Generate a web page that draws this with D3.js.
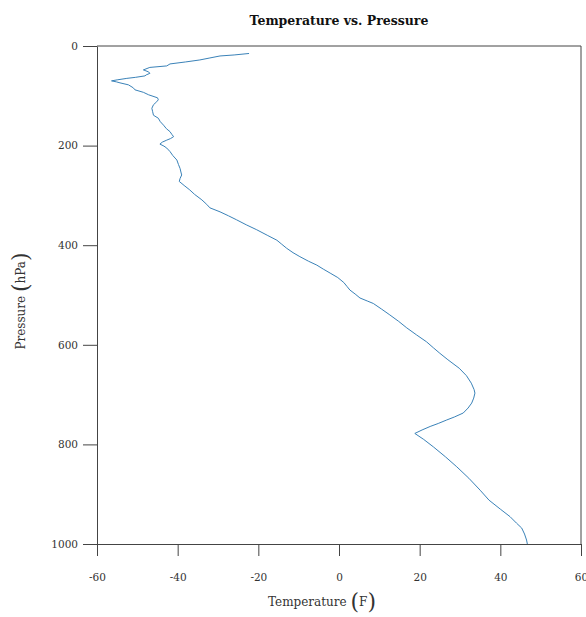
<!DOCTYPE html>
<html>
<head>
<meta charset="utf-8">
<script src="https://cdn.jsdelivr.net/npm/d3@7"></script>
<style>
  html, body { margin: 0; padding: 0; background: #fff; }
  svg { display: block; }
</style>
</head>
<body>
<svg id="chart" width="586" height="617"></svg>
<script>
// ---- data ----
const pressure = [15,18,20,24,28,32,36,40,43,48,52,55,58,60,63,65,68,70,72,74,78,84,88,93,98,104,108,112,118,125,132,139,145,152,159,166,172,178,182,186,189,193,197,201,205,212,220,229,238,246,253,259,266,272,280,289,298,309,318,325,333,341,349,359,369,380,390,398,406,415,423,432,440,448,456,465,475,483,490,498,506,512,517,528,540,553,566,580,594,606,617,630,647,662,677,690,697,707,717,727,737,745,751,758,764,771,778,790,805,825,845,868,892,912,930,945,958,968,980,992,1000];
const temperature = [-22.3,-26,-29.5,-32,-34.5,-38,-41.9,-42.7,-46.9,-48.5,-47.2,-46.9,-47.8,-48.1,-50.5,-52.6,-55,-56.4,-55.2,-54.3,-52.2,-51,-50.6,-48.5,-47.2,-45,-44.8,-45.2,-46,-46.4,-46.2,-46,-44.8,-44.3,-43.5,-42.8,-41.9,-41.4,-41,-41.8,-42.7,-43.8,-44.4,-43.4,-42.7,-41.9,-41.2,-40.2,-39.8,-39.4,-39.2,-39,-39.4,-39.6,-38.4,-37,-35.8,-34,-32.8,-32,-29.5,-27.4,-25.4,-23,-20.4,-17.8,-15.4,-14.2,-13,-11.4,-9.7,-7.6,-5.5,-3.9,-2.2,-0.3,1.2,2,2.7,4,5.2,7,8.5,10.5,12.6,14.8,16.8,19.2,21.7,23.4,25,27,29.8,31.6,32.8,33.5,33.7,33.4,32.9,32,30.8,28.6,26.7,24.6,22.6,20.6,18.8,21,23.4,26.4,29.2,32.2,35,37.2,40,42.4,44,45.3,46,46.5,46.7];
const xTicks = [-60,-40,-20,0,20,40,60];
const yTicks = [0,200,400,600,800,1000];
const titleText = "Temperature vs. Pressure";
const xLabel = "Temperature";
const xUnit = "F";
const yLabel = "Pressure";
const yUnit = "hPa";

// ---- layout ----
const svg = d3.select("#chart");
const L = 97, R = 581, T = 46, B = 544;
const x = d3.scaleLinear().domain([-60, 60]).range([L, R]);
const y = d3.scaleLinear().domain([0, 1000]).range([T, B]);
const serif = "'DejaVu Serif', 'Liberation Serif', serif";
const axisColor = "#444";

const data = pressure.map((p, i) => ({p, t: temperature[i]}));

// frame (top + right)
svg.append("path")
  .attr("d", `M${x(-60)},${y(0)}H${x(60)}V${y(1000)}`)
  .attr("fill", "none").attr("stroke", axisColor).attr("stroke-width", 1);

// left axis
const gy = svg.append("g").attr("transform", `translate(${L},0)`)
  .call(d3.axisLeft(y).tickValues(yTicks).tickSize(14).tickSizeOuter(0).tickPadding(5).tickFormat(d => String(d)));
// bottom axis
const gx = svg.append("g").attr("transform", `translate(0,${B})`)
  .call(d3.axisBottom(x).tickValues(xTicks).tickSize(12).tickSizeOuter(0).tickPadding(18).tickFormat(d => String(d)));

[gx, gy].forEach(g => {
  g.selectAll("path, line").attr("stroke", axisColor).attr("stroke-width", 1);
  g.selectAll("text").attr("font-family", serif).attr("font-size", 10.5).attr("fill", "#333");
});

// line
svg.append("path")
  .datum(data)
  .attr("fill", "none")
  .attr("stroke", "#3a82b8")
  .attr("stroke-width", 1)
  .attr("stroke-linejoin", "round")
  .attr("d", d3.line().x(d => x(d.t)).y(d => y(d.p)));

// title
svg.append("text")
  .attr("x", (L + R) / 2).attr("y", 25)
  .attr("text-anchor", "middle")
  .attr("font-family", serif).attr("font-weight", "bold").attr("font-size", 12.5)
  .attr("fill", "#111")
  .text(titleText);

// x label with big parentheses
const xl = svg.append("text")
  .attr("x", 322).attr("y", 606)
  .attr("text-anchor", "middle")
  .attr("font-family", serif).attr("font-size", 12).attr("fill", "#333");
xl.append("tspan").text(xLabel + " ");
xl.append("tspan").attr("font-size", 22).attr("dy", 3).text("(");
xl.append("tspan").attr("font-size", 12).attr("dy", -3).text(xUnit);
xl.append("tspan").attr("font-size", 22).attr("dy", 3).text(")");

// y label with big parentheses
const yl = svg.append("text")
  .attr("transform", `translate(25,301) rotate(-90)`)
  .attr("text-anchor", "middle")
  .attr("font-family", serif).attr("font-size", 12).attr("fill", "#333");
yl.append("tspan").text(yLabel + " ");
yl.append("tspan").attr("font-size", 22).attr("dy", 3).text("(");
yl.append("tspan").attr("font-size", 12).attr("dy", -3).text(yUnit);
yl.append("tspan").attr("font-size", 22).attr("dy", 3).text(")");
</script>
</body>
</html>
